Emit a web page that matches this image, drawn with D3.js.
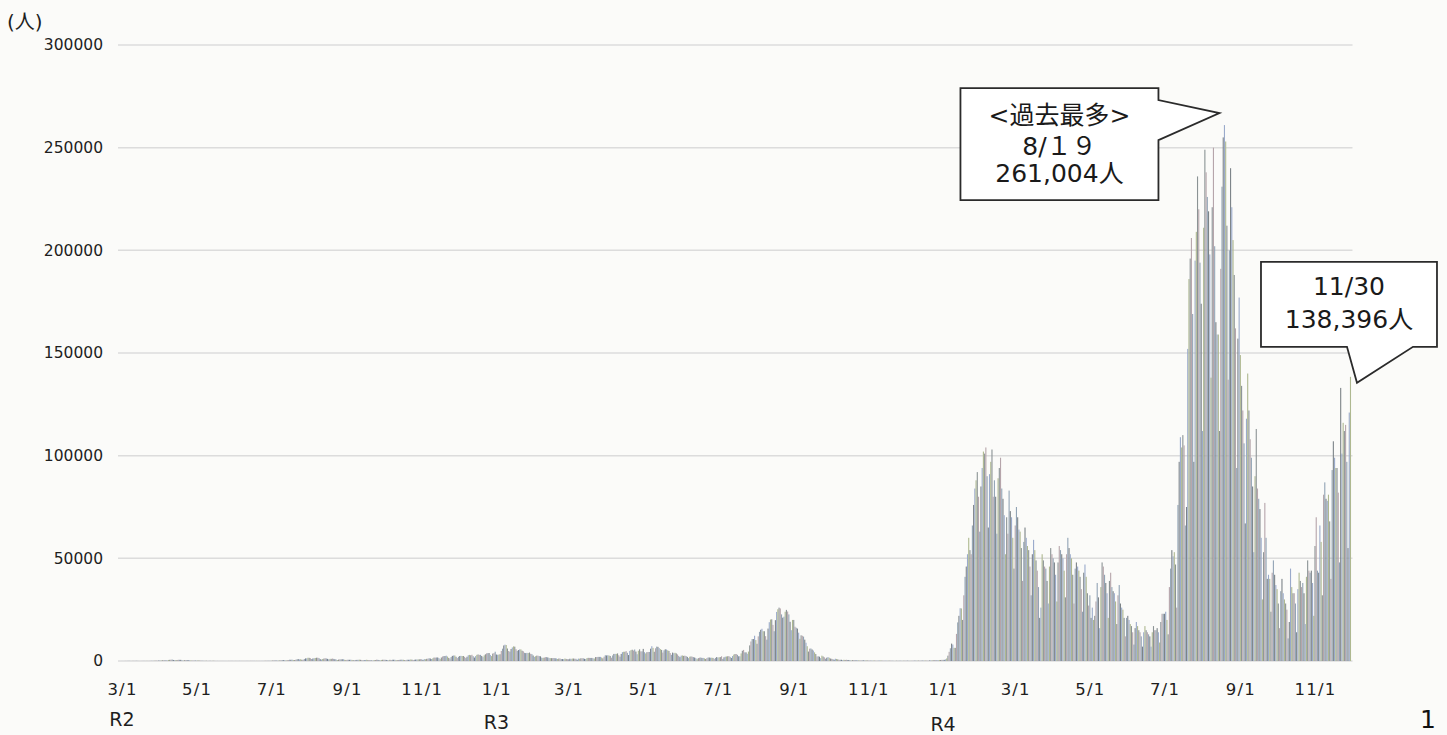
<!DOCTYPE html>
<html lang="ja">
<head>
<meta charset="UTF-8">
<title>新規陽性者数の推移</title>
<script src="https://d3js.org/d3.v7.min.js"></script>
<style>
  body { margin: 0; background: #fbfbf9; }
  svg { display: block; }
</style>
</head>
<body>
<svg id="chart"></svg>
<script>
// daily new cases (人), one inner array per month
// R2: 2020/3 - 2020/12
const cases2020 = [
  [14,8,17,33,35,59,47,33,26,59, 54,56,62,46,35,15,40,44,39,50, 53,41,38,65,71,96,112,135,194,87, 220],
  [266,235,351,305,383,254,252,515,576,639, 714,507,390,457,482,585,576,568,375,186, 386,339,429,443,345,210,175,240,198,184],
  [166,287,204,176,120,97,91,89,114,52, 66,83,55,94,100,46,30,31,30,38, 26,41,30,21,26,21,38,42,50,42, 36],
  [35,50,40,48,42,54,49,35,40,40, 40,55,45,50,73,54,46,41,68,35, 57,40,31,71,48,105,102,99,85,113],
  [125,194,250,274,206,168,206,278,355,428, 390,409,262,328,459,623,595,661,509,421, 630,794,981,770,842,612,597,982,1259,1302, 1579],
  [1536,1339,968,1222,1356,1485,1595,1597,1435,914, 699,983,1180,1360,1227,1047,828,1035,1040,1176, 1037,889,723,493,675,803,822,867,821,621, 433],
  [588,606,595,625,531,386,305,512,545,578, 644,580,438,289,376,505,612,450,491,318, 259,216,466,469,631,583,425,302,517,610],
  [610,600,520,400,290,590,480,610,620,590, 420,360,500,560,640,620,600,420,380,610, 600,620,750,650,470,610,700,730,770,820, 870],
  [840,490,940,840,1050,1140,1330,1210,980,1280, 1660,1660,1710,1730,1440,950,1700,2200,2390,2420, 2600,2170,1520,1230,1950,2500,2680,2680,2060,1430],
  [2030,2430,2510,2430,2440,2020,1440,2080,2810,2970, 2790,3040,2360,1680,2380,2990,3180,2990,2990,2460, 1890,2740,3270,3740,3830,3880,2950,2390,3600,3850, 4520]
];

// R3: 2021/1 - 2021/12
const cases2021 = [
  [3160,3050,3110,3300,4900,6000,7570,7950,7790,6090, 4880,4540,5870,6600,7130,6990,5760,4920,5320,5660, 5650,5000,4710,3990,3850,3960,3870,4130,3520,3360, 2670],
  [2010,2320,2610,2580,2390,2280,1650,1510,1650,1870, 1900,1740,1510,1400,1390,1420,1460,1330,1240,1000, 1200,1220,980,930,910,1200,1010,890],
  [840,1100,1030,1180,1200,1120,1070,600,1160,1120, 1320,1370,1320,1070,980,1400,1530,1510,1490,1500, 1300,1200,1900,1930,2000,2000,2000,1700,1300,2100, 2800],
  [2700,2800,2700,2450,1600,2700,3450,3450,3490,3700, 2800,2100,3450,4300,4500,4500,4800,4000,2900,4900, 5300,5500,5100,5600,4600,3300,5000,5700,4700,4700],
  [5900,4300,3700,4300,4400,4400,6000,7200,6400,4500, 6200,7000,6900,6300,5800,5400,4100,5200,5700,5600, 5200,4900,3900,3000,4100,3800,4000,3700,3200,2500, 1900],
  [2600,2700,2500,2600,2400,2000,1400,2100,2200,2100, 1900,1700,1400,935,1400,1600,1700,1500,1500,1300, 1000,1400,1700,1700,1600,1600,1500,1000,1500,1900],
  [1700,1800,1900,2300,1000,1800,2100,2200,2300,2400, 2000,1500,2400,3100,3400,3400,3000,2300,2300,3700, 5000,5400,4200,4200,3500,4600,7600,9500,10700,10700, 12300],
  [10200,8400,12000,14200,15200,15700,14500,14500,12100,10400, 15800,18900,20200,20300,17600,14500,19900,23900,25200,25992, 25600,22700,21100,21600,24000,24900,24100,22700,19100,15000, 20000],
  [20000,16700,16200,15800,13800,10800,12500,12300,11900,10400, 8900,7200,4600,6000,6100,5600,5100,4200,3400,2200, 2300,2100,1400,2600,2200,1800,1100,1600,1900,1600],
  [1200,1100,900,600,1100,1000,800,600,600,600, 400,600,500,600,500,500,400,230,400,400, 400,300,300,300,200,300,300,280,280,290, 270],
  [200,150,160,170,190,150,160,100,120,210, 200,160,150,120,80,150,130,150,140,110, 100,50,80,130,100,120,110,100,90,130],
  [130,120,130,120,110,100,120,130,170,150, 160,180,140,150,180,180,190,180,170,130, 250,280,300,320,400,350,270,400,500,500, 560]
];

// R4: 2022/1 - 2022/11
const cases2022 = [
  [550,570,780,1260,2600,4470,6200,8470,8000,6400, 6400,13200,18800,22000,25700,25600,20000,32000,41000,46000, 52000,60000,54000,52000,66000,76000,84000,88000,92000,80000, 63000],
  [85000,94000,102000,101000,104000,90000,65000,91000,97000,103000, 80000,88000,80000,62000,89000,94000,99000,84000,79000,71000, 52000,70000,62000,83000,73000,70000,60000,45000],
  [66000,75000,70000,64000,63000,55000,39000,58000,65000,60000, 56000,54000,46000,32000,52000,59000,54000,49000,44000,36000, 21000,26000,52000,49000,46000,45000,39000,28000,46000,55000, 52000],
  [50000,48000,42000,29000,48000,56000,54000,52000,50000,44000, 31000,52000,60000,55000,52000,50000,42000,28000,45000,48000, 46000,44000,41000,35000,24000,43000,47000,41000,33000,27000],
  [32000,21000,26000,20000,22000,29000,38000,31000,16000,36000, 48000,46000,42000,38000,33000,21000,39000,43000,36000,34000, 33000,29000,18000,32000,37000,28000,26000,25000,21000,12000, 21000],
  [22000,20000,18000,17000,14000,8000,16000,19000,17000,15000, 14000,12000,7000,14000,17000,15000,14000,13000,12000,7000, 14000,17000,15000,15000,16000,14000,9000,19000,23000,23000],
  [23000,24000,20000,13000,36000,45000,54000,51000,53000,47000, 26000,76000,97000,109000,104000,110000,105000,66000,75000,152000, 186000,196000,206000,169000,97000,195000,209000,236000,220000,194000, 174000],
  [112000,211000,249000,238000,226000,219000,198000,138000,221000,250000, 202000,165000,159000,159000,112000,191000,231000,255000,261004,253000, 212000,137000,200000,240000,221000,205000,188000,162000,94000,157000, 177000],
  [149000,134000,122000,106000,67000,118000,140000,122000,108000,99000, 85000,53000,90000,113000,84000,79000,74000,60000,30000,53000, 77000,60000,40000,42000,40000,24000,43000,49000,42000,37000],
  [35000,28000,16000,34000,40000,33000,30000,28000,25000,11000, 19000,45000,36000,33000,33000,28000,14000,35000,43000,39000, 36000,38000,33000,18000,41000,49000,44000,43000,44000,38000, 22000],
  [56000,70000,44000,43000,66000,58000,32000,81000,87000,79000, 78000,81000,68000,40000,93000,107000,99000,94000,94000,82000, 48000,133000,101000,116000,112000,115000,97000,55000,121000,138396]
];

const yTicks = [0, 50000, 100000, 150000, 200000, 250000, 300000];
const eraNames = ["R2", "R3", "R4"];
const eraStarts = ["2020-03-01", "2021-01-01", "2022-01-01"];

const peakDate = "2022-08-19";
const peakLines = ["<過去最多>", "8/１９", "261,004人"];
const lastDate = "2022-11-30";
const lastLines = ["11/30", "138,396人"];

// scanned bars come out in a mix of muted tints
const barColors = ["#7c8388", "#9aaacb", "#aeb890", "#8b9395", "#b6a5ab", "#92a4b5"];

const width = 1447;
const height = 735;
const latin = "'DejaVu Sans', 'Noto Sans CJK JP', sans-serif";

const parse = d3.timeParse("%Y-%m-%d");

const data = [];
[[2020, 2, cases2020], [2021, 0, cases2021], [2022, 0, cases2022]].forEach(([year, m0, months]) => {
  months.forEach((days, i) => {
    days.forEach((v, d) => data.push({ date: new Date(year, m0 + i, d + 1), value: v }));
  });
});

const svg = d3.select("#chart")
  .attr("width", width)
  .attr("height", height)
  .attr("viewBox", [0, 0, width, height]);

const x = d3.scaleTime()
  .domain([new Date(2020, 2, 1), new Date(2022, 10, 1)])
  .range([122, 1315]);

const y = d3.scaleLinear()
  .domain([0, 300000])
  .range([661, 45]);

const step = x(new Date(2020, 2, 2)) - x(new Date(2020, 2, 1));
const first = data[0].date;
const last = data[data.length - 1].date;

// gridlines
svg.append("g")
  .selectAll("line")
  .data(yTicks)
  .join("line")
  .attr("x1", x(first) - 4)
  .attr("x2", x(last) + 2)
  .attr("y1", d => y(d))
  .attr("y2", d => y(d))
  .attr("stroke", "#dcdcdc")
  .attr("stroke-width", 1.5);

// bars
svg.append("g")
  .selectAll("rect")
  .data(data)
  .join("rect")
  .attr("x", d => x(d.date) - step * 0.45)
  .attr("y", d => y(d.value))
  .attr("width", step * 0.9)
  .attr("height", d => y(0) - y(d.value))
  .attr("fill", (d, i) => barColors[i % barColors.length]);

// y axis
const yAxis = svg.append("g")
  .attr("transform", `translate(${x(first)}, 0)`)
  .call(d3.axisLeft(y).tickValues(yTicks).tickSize(0).tickPadding(19).tickFormat(d3.format("d")));
yAxis.select(".domain").remove();
yAxis.selectAll("text")
  .attr("fill", "#1e1e1e")
  .style("font-family", latin)
  .style("font-size", "15.5px");

// x axis
const xAxis = svg.append("g")
  .attr("transform", `translate(0, ${y(0)})`)
  .call(d3.axisBottom(x).ticks(d3.timeMonth.every(2)).tickSize(0).tickPadding(22).tickFormat(d3.timeFormat("%-m/%-d")));
xAxis.select(".domain").remove();
xAxis.selectAll("text")
  .attr("fill", "#1e1e1e")
  .style("font-family", latin)
  .style("font-size", "16.5px")
  .style("letter-spacing", "1.2px");

// era labels under the axis
const eraBaseline = [726, 729, 731];
svg.append("g")
  .selectAll("text")
  .data(eraNames)
  .join("text")
  .attr("x", (d, i) => x(parse(eraStarts[i])))
  .attr("y", (d, i) => eraBaseline[i])
  .attr("text-anchor", "middle")
  .attr("fill", "#1e1e1e")
  .style("font-family", latin)
  .style("font-size", "19px")
  .text(d => d);

// unit
svg.append("text")
  .attr("x", 7)
  .attr("y", 29)
  .attr("fill", "#1e1e1e")
  .style("font-family", latin)
  .style("font-size", "20px")
  .text("(人)");

// page number
svg.append("text")
  .attr("x", 1428)
  .attr("y", 728)
  .attr("text-anchor", "middle")
  .attr("fill", "#111")
  .style("font-family", latin)
  .style("font-size", "25px")
  .text("1");

function valueAt(s) {
  return data.find(d => +d.date === +parse(s));
}

function writeLines(g, lines, cx, top, offsets) {
  g.selectAll("text")
    .data(lines)
    .join("text")
    .attr("x", cx)
    .attr("y", (d, i) => top + offsets[i])
    .attr("text-anchor", "middle")
    .attr("fill", "#1a1a1a")
    .style("font-family", latin)
    .style("font-size", "25px")
    .text(d => d);
}

// callout: record high, tail pointing right to the peak bar
const pk = valueAt(peakDate);
const t1 = [x(pk.date) - 5, y(pk.value) - 12];
const b1 = { l: t1[0] - 259, r: t1[0] - 61, t: t1[1] - 25, b: t1[1] + 87 };
const c1 = svg.append("g");
c1.append("path")
  .attr("d", `M${b1.l},${b1.t}H${b1.r}V${b1.t + 12}L${t1[0]},${t1[1]}L${b1.r},${b1.t + 52}V${b1.b}H${b1.l}Z`)
  .attr("fill", "#fff")
  .attr("stroke", "#2b2b2b")
  .attr("stroke-width", 1.8);
writeLines(c1, peakLines, (b1.l + b1.r) / 2, b1.t, [36, 67, 94]);

// callout: latest day, tail pointing down to the last bar
const ls = valueAt(lastDate);
const t2 = [x(ls.date) + 6.5, y(ls.value) + 6];
const b2 = { l: t2[0] - 96, r: t2[0] + 80, t: t2[1] - 121, b: t2[1] - 36 };
const c2 = svg.append("g");
c2.append("path")
  .attr("d", `M${b2.l},${b2.t}H${b2.r}V${b2.b}H${t2[0] + 56}L${t2[0]},${t2[1]}L${t2[0] - 10},${b2.b}H${b2.l}Z`)
  .attr("fill", "#fff")
  .attr("stroke", "#2b2b2b")
  .attr("stroke-width", 1.8);
writeLines(c2, lastLines, (b2.l + b2.r) / 2, b2.t, [33, 66]);
</script>
</body>
</html>
